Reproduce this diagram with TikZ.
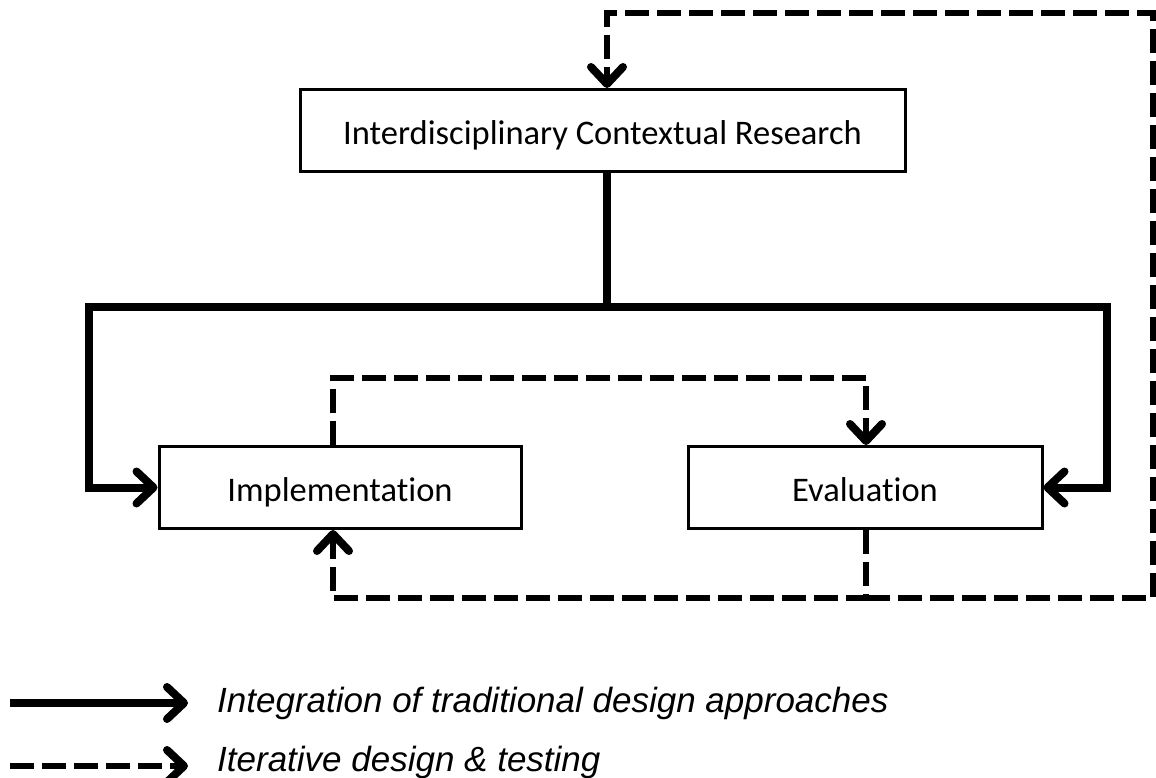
\documentclass[tikz,border=0pt]{standalone}
\usepackage{fontspec}
\setmainfont{Carlito}[Ligatures=NoCommon]
\newfontfamily\legendfont{Liberation Sans}
\usetikzlibrary{arrows.meta}
\begin{document}
\begin{tikzpicture}[x=1pt,y=-1pt,
  box/.style={draw, line width=3pt, inner sep=0pt, minimum height=82pt,
    text height=36pt, text depth=8pt,
    font=\fontsize{34.5}{38}\selectfont},
  tip/.style={-{Straight Barb[length=17pt,width=32pt,line width=8pt,line cap=round,line join=round]}},
  solidflow/.style={line width=8pt, line join=miter, tip},
  dashflow/.style={line width=6pt, dash pattern=on 24pt off 8pt, tip},
  legendtext/.style={anchor=west, inner sep=0pt,
    font=\legendfont\itshape\fontsize{35}{40}\selectfont}]
  \useasboundingbox (0,0) rectangle (1156,778);

  % boxes
  \node[box, minimum width=605pt] (top) at (602.5,130.5) {Interdisciplinary Contextual Research};
  \node[box, minimum width=362pt] (impl) at (340,487.5) {Implementation};
  \node[box, minimum width=354pt] (eval) at (865,487.5) {Evaluation};

  % traditional design approaches (solid)
  \coordinate (split) at (607,307);
  \coordinate (lcorner) at (89,307);
  \coordinate (rcorner) at (1107,307);
  \draw[line width=8pt] ([xshift=4.5pt]top.south) -- (split);
  \draw[solidflow] (split) -- (lcorner) |- (impl.west);
  \draw[solidflow] (split) -- (rcorner) |- (eval.east);

  % iterative design & testing (dashed)
  \coordinate (upper) at (333,378);
  \coordinate (lower) at (866,598);
  \coordinate (farright) at (1153,598);
  \coordinate (topright) at (1153,13);
  \draw[dashflow] ([xshift=-7pt]impl.north) -- ([xshift=-7pt]impl.north |- upper)
     -- ([xshift=1pt]eval.north |- upper) -- ([xshift=1pt]eval.north);
  \draw[dashflow] ([xshift=1pt]eval.south) -- (lower) -- ([xshift=-7pt]impl.south |- lower)
     -- ([xshift=-7pt]impl.south);
  \draw[dashflow] (lower) -- (farright) -- (topright)
     -- ([xshift=4.5pt]top.north |- topright) -- ([xshift=4.5pt]top.north);

  % legend
  \coordinate (s0) at (10,703);
  \coordinate (s1) at (188,703);
  \coordinate (d0) at (10,766);
  \coordinate (d1) at (188,766);
  \draw[solidflow] (s0) -- (s1);
  \draw[dashflow] (d0) -- (d1);
  \node[legendtext] (l1) at (217,703) {Integration of traditional design approaches};
  \node[legendtext] (l2) at (217,762) {Iterative design \& testing};
\end{tikzpicture}
\end{document}
